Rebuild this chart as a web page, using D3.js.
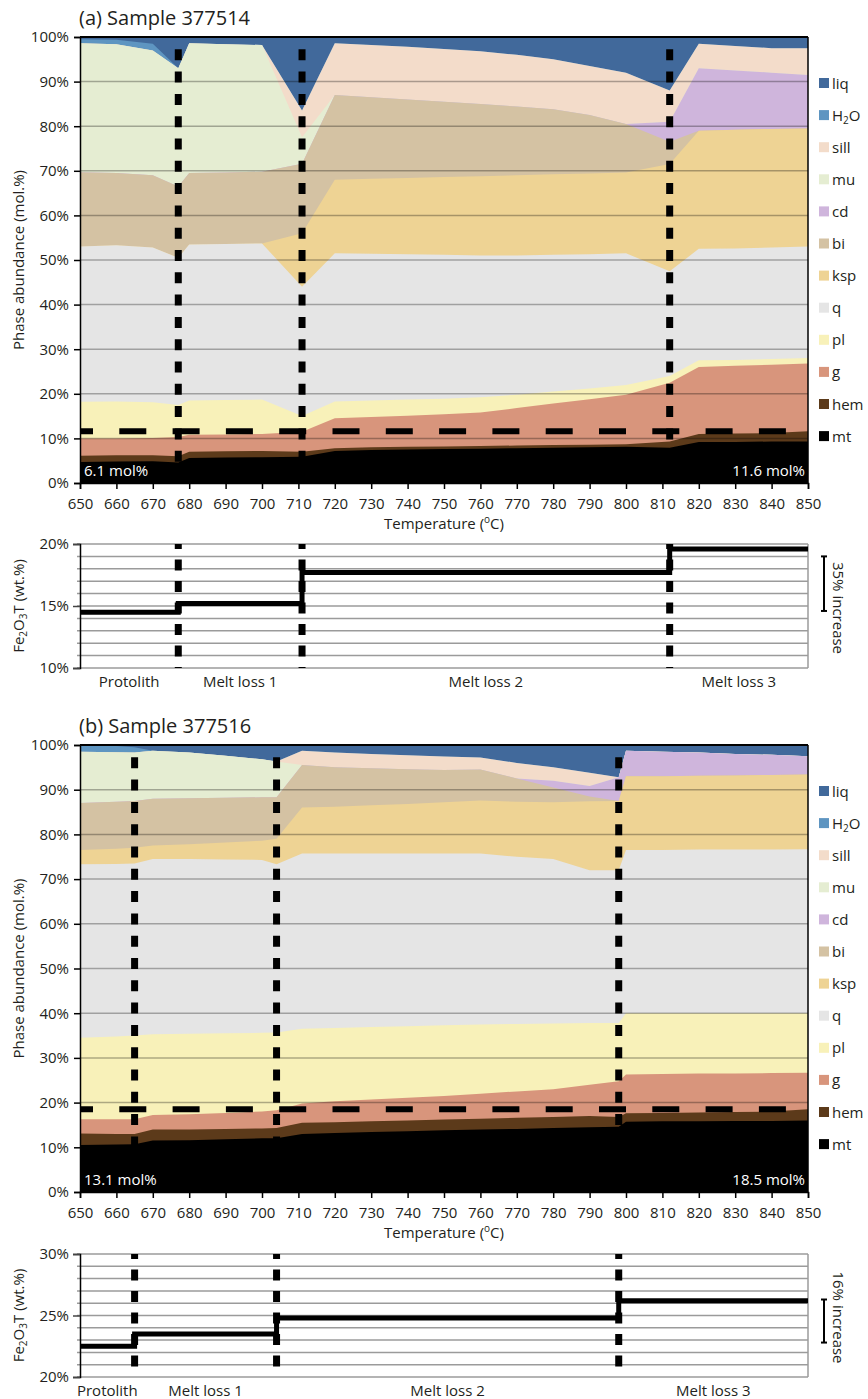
<!DOCTYPE html>
<html>
<head>
<meta charset="utf-8">
<script src="https://cdn.jsdelivr.net/npm/d3@7"></script>
<style>
  body { margin: 0; background: #fff; }
  svg { display: block; }
  text { font-family: "Open Sans", "DejaVu Sans", sans-serif; fill: #231f20; }
</style>
</head>
<body>
<svg id="fig" width="868" height="1399"></svg>
<script>
// Phases, bottom of the stack first
const phases = ["mt", "hem", "g", "pl", "q", "ksp", "bi", "cd", "mu", "sill", "H2O", "liq"];
const phaseColors = ["#000000", "#5c3a1a", "#d8957c", "#f8f1b9", "#e5e5e5", "#eed394",
                     "#d4c2a3", "#cfb5dc", "#e5edd2", "#f3dcca", "#5e95c1", "#41699b"];
const tempTicks = d3.range(650, 851, 10);

// ---- Sample 377514: phase abundances (mol.%) ----
const tempsA = [650, 660, 670, 677, 680, 690, 700, 711, 720, 730, 740, 750, 760, 770, 780, 790, 800, 812, 820, 830, 840, 850];
const mtA   = [4.7, 4.8, 4.9, 4.6, 5.6, 5.7, 5.8, 5.9, 7.2, 7.4, 7.5, 7.6, 7.7, 7.8, 7.9, 8.0, 8.1, 7.9, 9.2, 9.2, 9.3, 9.3];
const hemA  = [1.4, 1.4, 1.3, 1.4, 1.4, 1.4, 1.4, 1.1, 0.6, 0.6, 0.6, 0.6, 0.6, 0.6, 0.6, 0.6, 0.6, 1.4, 1.8, 1.9, 1.9, 2.3];
const gA    = [3.9, 3.8, 3.9, 4.3, 3.8, 3.8, 3.8, 4.5, 6.7, 6.8, 7.0, 7.2, 7.5, 8.4, 9.3, 10.2, 11.1, 13.2, 15.0, 15.2, 15.3, 15.2];
const plA   = [8.2, 8.3, 8.0, 7.2, 7.7, 7.7, 7.7, 3.5, 3.8, 3.7, 3.6, 3.5, 3.4, 3.0, 2.7, 2.4, 2.2, 1.5, 1.5, 1.3, 1.3, 1.2];
const qA    = [34.8, 35.0, 34.7, 33.0, 35.0, 35.0, 35.0, 29.0, 33.2, 32.9, 32.6, 32.3, 31.8, 31.2, 30.7, 30.1, 29.5, 23.5, 25.0, 25.0, 25.0, 25.0];
const kspA  = [0, 0, 0, 0, 0, 0, 0, 12.0, 16.5, 16.8, 17.1, 17.4, 17.8, 18.0, 18.0, 18.1, 18.1, 24.0, 26.5, 26.6, 26.6, 26.5];
const biA   = [16.7, 16.2, 16.2, 16.0, 16.0, 16.0, 16.1, 15.6, 19.0, 18.3, 17.6, 16.9, 16.2, 15.4, 14.6, 13.1, 10.9, 5.0, 0, 0, 0, 0];
const cdA   = [0, 0, 0, 0, 0, 0, 0, 0, 0, 0, 0, 0, 0, 0, 0, 0, 0, 4.5, 14.0, 13.3, 12.6, 12.0];
const muA   = [28.9, 28.9, 28.0, 26.5, 29.1, 28.8, 28.4, 5.9, 0, 0, 0, 0, 0, 0, 0, 0, 0, 0, 0, 0, 0, 0];
const sillA = [0, 0, 0, 0, 0, 0, 0, 6.0, 11.6, 11.7, 11.8, 11.8, 11.8, 11.6, 11.2, 11.0, 11.5, 7.0, 5.5, 5.5, 5.5, 6.0];
const h2oA  = [0.9, 1.0, 1.5, 0, 0, 0, 0, 0, 0, 0, 0, 0, 0, 0, 0, 0, 0, 0, 0, 0, 0, 0];
const liqA  = [0.5, 0.6, 1.5, 7.0, 1.4, 1.6, 1.8, 16.5, 1.4, 1.8, 2.2, 2.7, 3.2, 4.0, 5.0, 6.5, 8.0, 12.0, 1.5, 2.0, 2.5, 2.5];
const meltLossA = [677, 711, 812];
const oxideLabelsA = [6.1, 11.6];            // mt + hem (mol.%) at 650 and 850 °C
const stagesA = [650, 677, 711, 812, 850];
const feA = [14.5, 15.2, 17.7, 19.6];        // Fe2O3T (wt.%) per stage
const increaseA = [14.6, 19.0];

// ---- Sample 377516: phase abundances (mol.%) ----
const tempsB = [650, 660, 665, 670, 680, 690, 700, 704, 711, 720, 730, 740, 750, 760, 770, 780, 790, 798, 800, 810, 820, 830, 840, 850];
const mtB   = [10.5, 10.6, 10.7, 11.5, 11.6, 11.8, 12.0, 12.0, 13.0, 13.2, 13.4, 13.6, 13.8, 14.0, 14.1, 14.3, 14.5, 14.6, 15.7, 15.8, 15.8, 15.9, 15.9, 16.0];
const hemB  = [2.6, 2.4, 2.3, 2.5, 2.4, 2.3, 2.2, 2.3, 2.5, 2.4, 2.4, 2.4, 2.4, 2.4, 2.5, 2.5, 2.5, 2.2, 1.9, 1.9, 2.0, 2.0, 2.1, 2.5];
const gB    = [3.2, 3.3, 3.3, 3.2, 3.4, 3.6, 3.8, 4.0, 4.3, 4.7, 4.9, 5.1, 5.3, 5.6, 5.9, 6.2, 7.0, 8.0, 8.7, 8.7, 8.7, 8.6, 8.6, 8.2];
const plB   = [18.2, 18.5, 18.7, 18.1, 18.0, 17.8, 17.6, 17.4, 16.7, 16.4, 16.2, 16.0, 15.8, 15.5, 15.1, 14.7, 13.8, 13.0, 13.7, 13.6, 13.5, 13.5, 13.4, 13.3];
const qB    = [38.8, 38.6, 38.5, 39.2, 39.1, 38.9, 38.7, 37.6, 39.2, 39.0, 38.8, 38.6, 38.4, 38.2, 37.4, 36.8, 34.2, 34.2, 36.5, 36.5, 36.6, 36.6, 36.6, 36.7];
const kspB  = [3.2, 3.4, 3.5, 3.0, 3.3, 3.8, 4.3, 5.7, 10.3, 10.5, 10.8, 11.1, 11.5, 11.9, 12.3, 12.7, 15.4, 15.5, 16.5, 16.5, 16.5, 16.6, 16.7, 16.7];
const biB   = [10.5, 10.5, 10.5, 10.5, 10.3, 10.0, 9.7, 9.3, 9.5, 8.8, 8.3, 7.8, 7.2, 6.9, 5.2, 3.3, 1.1, 0, 0, 0, 0, 0, 0, 0];
const cdB   = [0, 0, 0, 0, 0, 0, 0, 0, 0, 0, 0, 0, 0, 0, 0, 1.5, 2.3, 5.3, 5.7, 5.5, 5.2, 4.8, 4.5, 4.1];
const muB   = [11.5, 11.1, 10.8, 10.7, 10.2, 9.4, 8.5, 8.0, 0, 0, 0, 0, 0, 0, 0, 0, 0, 0, 0, 0, 0, 0, 0, 0];
const sillB = [0, 0, 0, 0, 0, 0, 0, 0, 3.2, 3.3, 3.2, 3.1, 3.0, 2.7, 3.5, 3.0, 3.0, 0, 0, 0, 0, 0, 0, 0];
const h2oB  = [1.5, 1.4, 1.2, 0, 0, 0, 0, 0, 0, 0, 0, 0, 0, 0, 0, 0, 0, 0, 0, 0, 0, 0, 0, 0];
const liqB  = [0, 0.2, 0.5, 1.3, 1.7, 2.4, 3.2, 3.7, 1.3, 1.7, 2.0, 2.3, 2.6, 2.8, 4.0, 5.0, 6.2, 7.2, 1.3, 1.5, 1.7, 2.0, 2.2, 2.5];
const meltLossB = [665, 704, 798];
const oxideLabelsB = [13.1, 18.5];
const stagesB = [650, 665, 704, 798, 850];
const feB = [22.5, 23.5, 24.8, 26.2];
const increaseB = [22.8, 26.3];

const stageNames = ["Protolith", "Melt loss 1", "Melt loss 2", "Melt loss 3"];

const svg = d3.select("#fig");
const x = d3.scaleLinear().domain([650, 850]).range([80, 808]);
const color = d3.scaleOrdinal().domain(phases).range(phaseColors);

function drawPanel(p) {
  const g = svg.append("g");
  const y = d3.scaleLinear().domain([0, 100]).range([p.bottom, p.top]);

  // title
  g.append("text").attr("x", 79).attr("y", p.top - 12)
    .attr("font-size", 20).text(p.title);

  // stacked phase areas: each drawn from 0 up to its cumulative top, top phase first
  const rows = p.temps.map((t, i) => {
    const r = { T: t };
    phases.forEach(k => r[k] = p.values[k][i]);
    return r;
  });
  const series = d3.stack().keys(phases)(rows);
  const clipId = "clip" + p.id;
  g.append("clipPath").attr("id", clipId).append("rect")
    .attr("x", 80).attr("y", p.top).attr("width", 728).attr("height", p.bottom - p.top);
  const area = d3.area()
    .x(d => x(d.data.T))
    .y0(() => y(0))
    .y1(d => y(Math.min(d[1], 100)));
  g.append("g").attr("clip-path", `url(#${clipId})`)
    .selectAll("path").data(series.slice().reverse()).join("path")
    .attr("fill", d => color(d.key))
    .attr("d", area);

  // gridlines
  g.append("g").selectAll("line").data(d3.range(10, 100, 10)).join("line")
    .attr("x1", 80).attr("x2", 808)
    .attr("y1", d => y(d)).attr("y2", d => y(d))
    .attr("stroke", "#000").attr("stroke-opacity", 0.3).attr("stroke-width", 1.5);

  // frame
  g.append("line").attr("x1", 80).attr("x2", 808).attr("y1", p.top).attr("y2", p.top)
    .attr("stroke", "#000").attr("stroke-width", 2);
  g.append("line").attr("x1", 808).attr("x2", 808).attr("y1", p.top).attr("y2", p.bottom)
    .attr("stroke", "#000").attr("stroke-width", 1.5);

  // mt + hem level
  g.append("line").attr("x1", 80).attr("x2", 808)
    .attr("y1", y(p.oxide[1])).attr("y2", y(p.oxide[1]))
    .attr("stroke", "#000").attr("stroke-width", 6)
    .attr("stroke-dasharray", "27 26.3").attr("stroke-dashoffset", 14);

  // melt-loss events
  g.append("g").selectAll("line").data(p.melt).join("line")
    .attr("x1", d => x(d)).attr("x2", d => x(d))
    .attr("y1", p.top).attr("y2", p.bottom)
    .attr("stroke", "#000").attr("stroke-width", 7)
    .attr("stroke-dasharray", "11 11.3").attr("stroke-dashoffset", 10);

  // mt + hem labels
  g.append("text").attr("x", 84).attr("y", p.bottom - 7).attr("font-size", 15)
    .style("fill", "#fff").text(`${p.oxide[0]} mol%`);
  g.append("text").attr("x", 805).attr("y", p.bottom - 7).attr("font-size", 15)
    .attr("text-anchor", "end").style("fill", "#fff").text(`${p.oxide[1]} mol%`);

  // axes
  const yAxis = g.append("g").attr("transform", "translate(80,0)")
    .call(d3.axisLeft(y).tickValues(d3.range(0, 101, 10)).tickFormat(d => d + "%")
      .tickSize(6).tickPadding(5));
  const xAxis = g.append("g").attr("transform", `translate(0,${p.bottom})`)
    .call(d3.axisBottom(x).tickValues(tempTicks).tickFormat(d3.format("d"))
      .tickSize(6).tickPadding(9));
  [yAxis, xAxis].forEach(a => {
    a.select(".domain").attr("stroke", "#000").attr("stroke-width", 1.5);
    a.selectAll(".tick line").attr("stroke", "#000").attr("stroke-width", 1.5);
    a.selectAll(".tick text").attr("font-size", 15)
      .attr("font-family", "\"Open Sans\", sans-serif").style("fill", "#231f20");
  });

  // axis titles
  const tt = g.append("text").attr("x", 444).attr("y", p.bottom + 46)
    .attr("text-anchor", "middle").attr("font-size", 15);
  tt.append("tspan").text("Temperature (");
  tt.append("tspan").attr("font-size", 10).attr("dy", -6).text("o");
  tt.append("tspan").attr("dy", 6).text("C)");
  g.append("text").attr("transform", `translate(24,${(p.top + p.bottom) / 2}) rotate(-90)`)
    .attr("text-anchor", "middle").attr("font-size", 15).text("Phase abundance (mol.%)");

  // legend
  const leg = g.append("g").selectAll("g").data(phases.slice().reverse()).join("g")
    .attr("transform", (d, i) => `translate(819,${p.top + 46 + i * 32.1})`);
  leg.append("rect").attr("x", 0).attr("y", -5).attr("width", 10).attr("height", 10)
    .attr("fill", d => color(d));
  leg.each(function (d) {
    const t = d3.select(this).append("text").attr("x", 13).attr("y", 5.5).attr("font-size", 15);
    if (d === "H2O") {
      t.append("tspan").text("H");
      t.append("tspan").attr("font-size", 10).attr("dy", 3).text("2");
      t.append("tspan").attr("dy", -3).text("O");
    } else {
      t.text(d);
    }
  });

  // ---- Fe2O3T panel ----
  const fy = d3.scaleLinear().domain(p.feDomain).range([p.feBottom, p.feTop]);
  const feTicks = d3.range(p.feDomain[0], p.feDomain[1] + 0.5, 1);
  g.append("g").selectAll("line").data(feTicks).join("line")
    .attr("x1", 77).attr("x2", 808)
    .attr("y1", d => fy(d)).attr("y2", d => fy(d))
    .attr("stroke", "#9b9b9b").attr("stroke-width", 1.5);
  g.append("line").attr("x1", 808).attr("x2", 808).attr("y1", p.feTop).attr("y2", p.feBottom)
    .attr("stroke", "#9b9b9b").attr("stroke-width", 1.5);
  const fAxis = g.append("g").attr("transform", "translate(80,0)")
    .call(d3.axisLeft(fy).tickValues(d3.range(p.feDomain[0], p.feDomain[1] + 1, 5))
      .tickFormat(d => d + "%").tickSize(7).tickPadding(4));
  fAxis.select(".domain").attr("stroke", "#000").attr("stroke-width", 1.5);
  fAxis.selectAll(".tick line").attr("stroke", "#444").attr("stroke-width", 1.5);
  fAxis.selectAll(".tick text").attr("font-size", 15)
    .attr("font-family", "\"Open Sans\", sans-serif").style("fill", "#231f20");

  // melt-loss events through the Fe2O3T panel
  g.append("g").selectAll("line").data(p.melt).join("line")
    .attr("x1", d => x(d)).attr("x2", d => x(d))
    .attr("y1", p.feTop).attr("y2", p.feBottom)
    .attr("stroke", "#000").attr("stroke-width", 7)
    .attr("stroke-dasharray", "11 10.5").attr("stroke-dashoffset", 6);

  // bulk Fe2O3T step line
  const pts = [];
  p.fe.forEach((v, i) => { pts.push([p.stages[i], v]); pts.push([p.stages[i + 1], v]); });
  g.append("path")
    .attr("d", d3.line().x(d => x(d[0])).y(d => fy(d[1]))(pts))
    .attr("fill", "none").attr("stroke", "#000").attr("stroke-width", 5);

  // stage labels
  g.append("g").selectAll("text").data(stageNames).join("text")
    .attr("x", (d, i) => (x(p.stages[i]) + x(p.stages[i + 1])) / 2)
    .attr("y", p.feBottom + 19).attr("text-anchor", "middle").attr("font-size", 15)
    .text(d => d);

  // Fe2O3T axis title
  const fl = g.append("text")
    .attr("transform", `translate(24,${(p.feTop + p.feBottom) / 2}) rotate(-90)`)
    .attr("text-anchor", "middle").attr("font-size", 15);
  fl.append("tspan").text("Fe");
  fl.append("tspan").attr("font-size", 10).attr("dy", 3).text("2");
  fl.append("tspan").attr("dy", -3).text("O");
  fl.append("tspan").attr("font-size", 10).attr("dy", 3).text("3");
  fl.append("tspan").attr("dy", -3).text("T (wt.%)");

  // increase bracket
  const b0 = fy(p.increase[0]), b1 = fy(p.increase[1]);
  const br = g.append("g").attr("stroke", "#000").attr("stroke-width", 2);
  br.append("line").attr("x1", 824).attr("x2", 824).attr("y1", b1).attr("y2", b0);
  br.append("line").attr("x1", 821).attr("x2", 827).attr("y1", b1).attr("y2", b1);
  br.append("line").attr("x1", 821).attr("x2", 827).attr("y1", b0).attr("y2", b0);
  g.append("text")
    .attr("transform", `translate(833,${(p.feTop + p.feBottom) / 2 + 2}) rotate(90)`)
    .attr("text-anchor", "middle").attr("font-size", 15).text(p.increaseLabel);
}

drawPanel({
  id: "A", title: "(a) Sample 377514", top: 37, bottom: 483,
  temps: tempsA,
  values: { mt: mtA, hem: hemA, g: gA, pl: plA, q: qA, ksp: kspA, bi: biA, cd: cdA, mu: muA, sill: sillA, H2O: h2oA, liq: liqA },
  melt: meltLossA, oxide: oxideLabelsA,
  feTop: 544, feBottom: 668, feDomain: [10, 20],
  stages: stagesA, fe: feA, increase: increaseA, increaseLabel: "35% increase"
});

drawPanel({
  id: "B", title: "(b) Sample 377516", top: 745, bottom: 1192,
  temps: tempsB,
  values: { mt: mtB, hem: hemB, g: gB, pl: plB, q: qB, ksp: kspB, bi: biB, cd: cdB, mu: muB, sill: sillB, H2O: h2oB, liq: liqB },
  melt: meltLossB, oxide: oxideLabelsB,
  feTop: 1254, feBottom: 1377, feDomain: [20, 30],
  stages: stagesB, fe: feB, increase: increaseB, increaseLabel: "16% increase"
});
</script>
</body>
</html>
